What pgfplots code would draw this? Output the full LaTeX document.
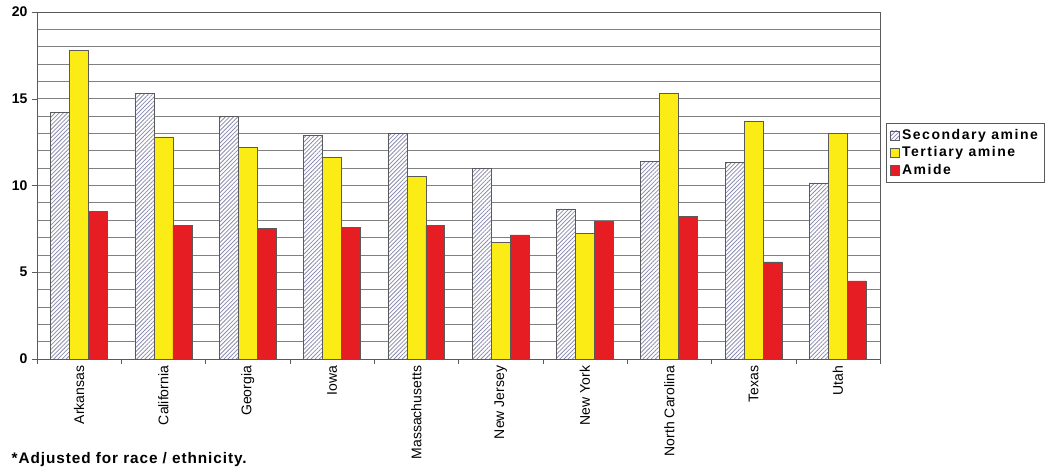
\documentclass[border=0pt]{standalone}
\usepackage{fontspec}
\setmainfont{Liberation Sans}
\usepackage{pgfplots}
\pgfplotsset{compat=1.18}
\usetikzlibrary{patterns.meta}
\definecolor{hatch}{RGB}{140,140,175}
\definecolor{tyellow}{RGB}{250,236,20}
\definecolor{ared}{RGB}{230,30,36}
\definecolor{gridgray}{RGB}{128,128,128}
\definecolor{axisgray}{RGB}{90,90,90}

\begin{document}
\begin{tikzpicture}
\begin{axis}[
    scale only axis,
    width=632.25pt, height=260.25pt,
    ybar=0pt, bar width=0.225,
    xmin=-0.5, xmax=9.5, ymin=0, ymax=20,
    xtick={0,...,9},
    xticklabels={Arkansas,California,Georgia,Iowa,Massachusetts,New Jersey,New York,North Carolina,Texas,Utah},
    minor xtick={-0.5,0.5,...,9.5},
    ytick={0,5,...,20},
    minor ytick={0,1,...,20},
    tick pos=left, tick align=outside,
    major x tick style={draw=none},
    minor x tick style={draw=axisgray},
    minor y tick style={draw=none},
    major y tick style={draw=axisgray},
    major tick length=4pt, minor tick length=4pt,
    ymajorgrids, yminorgrids,
    major grid style={gridgray, line width=0.6pt},
    minor grid style={gridgray, line width=0.6pt},
    axis line style={axisgray, line width=0.7pt},
    xticklabel style={rotate=90, anchor=east, font=\fontsize{10.5}{12}\selectfont, inner sep=1pt},
    yticklabel style={font=\bfseries\fontsize{10.5}{12}\selectfont, inner sep=3pt},
    /pgf/number format/assume math mode=true,
    legend cell align=left,
    legend style={at={(1.007,0.594)}, anchor=west, draw=axisgray, line width=0.6pt,
        font=\bfseries\addfontfeature{LetterSpace=11}\fontsize{10.5}{12}\selectfont,
        inner sep=2.5pt, row sep=0pt},
    legend image code/.code={\draw[#1, line width=0.5pt] (0pt,-3.4pt) rectangle (6.8pt,3.4pt);},
]
\addplot[draw=axisgray, line width=0.5pt, preaction={fill=white},
    pattern={Lines[angle=45,distance=2.2pt,line width=0.6pt]}, pattern color=hatch]
    coordinates {(0,14.2) (1,15.3) (2,14.0) (3,12.9) (4,13.0) (5,11.0) (6,8.65) (7,11.4) (8,11.35) (9,10.15)};
\addlegendentry{Secondary amine}
\addplot[draw=axisgray, line width=0.5pt, fill=tyellow]
    coordinates {(0,17.8) (1,12.8) (2,12.2) (3,11.6) (4,10.5) (5,6.7) (6,7.25) (7,15.3) (8,13.7) (9,13.0)};
\addlegendentry{Tertiary amine}
\addplot[draw=axisgray, line width=0.5pt, fill=ared]
    coordinates {(0,8.5) (1,7.7) (2,7.55) (3,7.6) (4,7.7) (5,7.15) (6,7.95) (7,8.2) (8,5.6) (9,4.5)};
\addlegendentry{Amide}
\end{axis}
\node[anchor=base west, font=\bfseries\addfontfeature{LetterSpace=6}\fontsize{11.5}{13}\selectfont]
    at ([xshift=-22.5pt,yshift=-78pt]current axis.south west) {*Adjusted for race / ethnicity.};
\pgfresetboundingbox
\useasboundingbox ([xshift=-27.75pt,yshift=-87pt]current axis.south west) rectangle ++(787.5pt,356.25pt);
\end{tikzpicture}
\end{document}
